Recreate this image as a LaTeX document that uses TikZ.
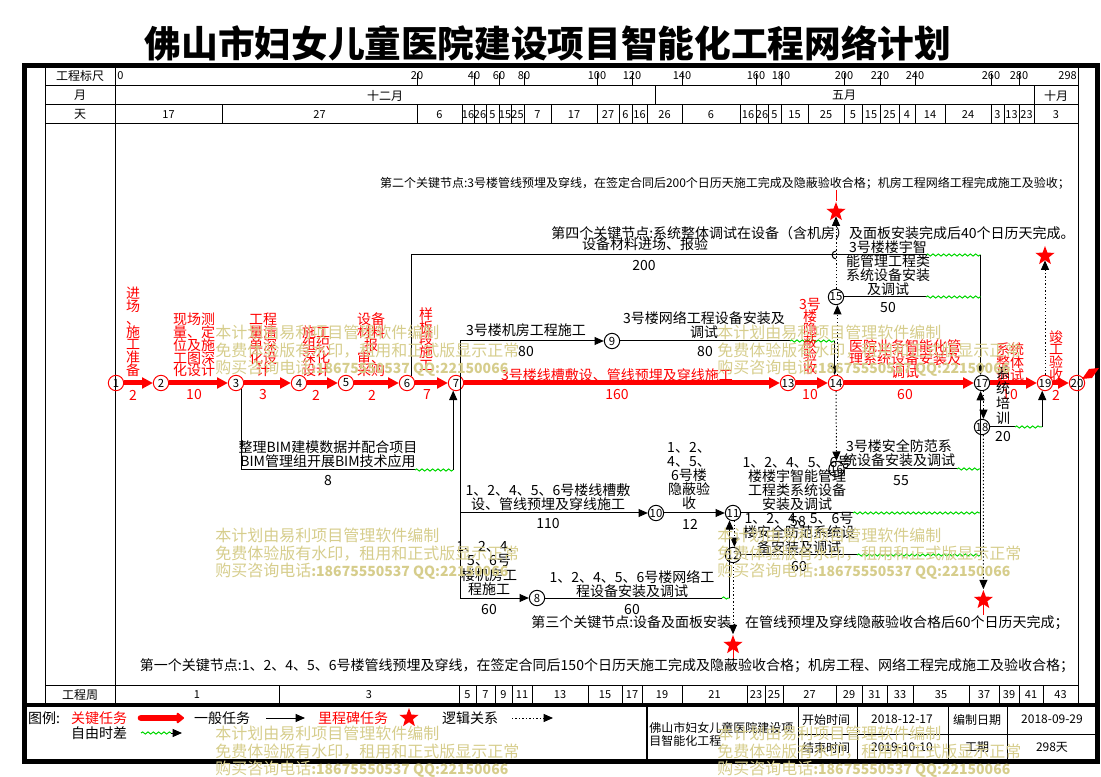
\documentclass[tikz,border=0pt]{standalone}
\usepackage{fontspec}
\setmainfont{Noto Sans CJK SC}
\usetikzlibrary{arrows.meta,shapes.geometric,decorations.pathmorphing}
\definecolor{wmark}{RGB}{214,205,140}
\definecolor{slackgreen}{RGB}{0,215,0}
\newcommand\cjktight{\lineskiplimit=-20pt\lineskip=0pt\relax}

\begin{document}
\begin{tikzpicture}[x=0.75pt,y=-0.75pt,
    ev/.style={circle,draw,line width=0.75pt,inner sep=0pt,minimum size=11.5pt,font=\fontsize{8.5}{9}\selectfont},
    evc/.style={ev,draw=red},
    crit/.style={red,line width=3.75pt,-{Triangle[length=8pt,width=8pt]}},
    act/.style={line width=0.75pt},
    actarr/.style={act,-{Triangle[length=7pt,width=6pt]}},
    logic/.style={act,dash pattern=on 1pt off 1.6pt,-{Triangle[length=7pt,width=6pt]}},
    slackline/.style={draw=slackgreen,line width=0.75pt,decorate,decoration={snake,amplitude=0.8pt,segment length=4pt}},
    lab/.style={inner sep=0pt,align=center,font=\fontsize{10.5}{10.6}\selectfont\cjktight},
    clab/.style={lab,text=red,font=\fontsize{10.5}{9.6}\selectfont\cjktight},
    kn/.style={inner sep=0pt,font=\fontsize{10.5}{12}\selectfont},
    mile/.style={star,star points=5,star point ratio=2.4,fill=red,inner sep=0pt,minimum size=15pt},
    hd/.style={inner sep=0pt,font=\fontsize{9}{10}\selectfont},
    num/.style={inner sep=0pt,font=\fontsize{8.25}{9}\selectfont},
    lg/.style={inner sep=0pt,font=\fontsize{10.5}{12}\selectfont},
    wm/.style={inner sep=0pt,anchor=west,align=left,text=wmark,font=\fontsize{12}{13.1}\selectfont\cjktight}]
\useasboundingbox (0,0) rectangle (1101,777);

\node[font=\fontsize{27.5}{30}\selectfont\bfseries] (title) at (548,43) {佛山市妇女儿童医院建设项目智能化工程网络计划};

% frame and table
\draw[line width=3.75pt] (24.5,66) rectangle (1097.5,761);
\draw[line width=3pt] (24.5,705) -- (1097.5,705);
\draw[act] (45,66) -- (45,705) (115,66) -- (115,705) (1078,66) -- (1078,705);
\draw[act] (45,86) -- (1078,86) (45,105) -- (1078,105) (45,124) -- (1078,124) (45,685) -- (1078,685);

\node[hd] (hscale) at (80,76) {工程标尺};
\node[hd] (hmonth) at (80,95.5) {月};
\node[hd] (hday) at (80,114.5) {天};
\node[hd] (hweek) at (80,695) {工程周};

\node[num,anchor=west] (sc0) at (117,76) {0};
\foreach \x/\t [count=\i] in {417/20,474/40,499/60,524/80,597/100,632/120,682/140,756/160,781/180,844/200,880/220,915/240,991/260,1019/280}
  {\draw[act] (\x,73) -- (\x,86); \node[num] (sc\i) at (\x,76) {\t};}
\node[num,anchor=east] (scend) at (1077,76) {298};

\draw[act] (655,86) -- (655,105) (1034,86) -- (1034,105);
\node[hd] (m1) at (385,95.5) {十二月};
\node[hd] (m2) at (844,95.5) {五月};
\node[hd] (m3) at (1056,95.5) {十月};

\foreach \xa/\xb/\t [count=\i] in {115/222/17,222/417/27,417/462/6,462/474/16,474/486/26,486/499/5,499/511/15,511/524/25,524/551/7,551/597/17,597/619/27,619/632/6,632/647/16,647/682/26,682/740/6,740/756/16,756/768/26,768/781/5,781/808/15,808/844/25,844/862/5,862/880/15,880/899/25,899/915/4,915/945/14,945/991/24,991/1004/3,1004/1019/13,1019/1034/23,1034/1078/3}
  {\draw[act] (\xb,105) -- (\xb,124); \node[num] (day\i) at ({(\xa+\xb)/2},114.5) {\t};}

\foreach \xa/\xb/\t [count=\i] in {115/279/1,279/459/3,459/476/5,476/495/7,495/512/9,512/532/11,532/588/13,588/622/15,622/642/17,642/682/19,682/747/21,747/765/23,765/783/25,783/836/27,836/862/29,862/887/31,887/913/33,913/969/35,969/999/37,999/1019/39,1019/1043/41,1043/1078/43}
  {\draw[act] (\xb,685) -- (\xb,705); \node[num] (wk\i) at ({(\xa+\xb)/2},695) {\t};}

% events
\node[evc] (n1) at (116,383) {1};
\node[evc] (n2) at (161,383) {2};
\node[evc] (n3) at (236,383) {3};
\node[evc] (n4) at (299,383) {4};
\node[evc] (n5) at (346,383) {5};
\node[evc] (n6) at (407,383) {6};
\node[evc] (n7) at (456,383) {7};
\node[ev] (n8) at (537,598) {8};
\node[ev] (n9) at (612,341) {9};
\node[ev] (n10) at (656,513) {10};
\node[ev] (n11) at (733,513) {11};
\node[ev] (n12) at (733,555) {12};
\node[evc] (n13) at (788,383) {13};
\node[evc] (n14) at (836,383) {14};
\node[ev] (n15) at (836,297) {15};
\node[ev] (n16) at (836.5,469) {16};
\node[ev] (n17) at (982,383) {17};
\node[ev] (n18) at (982,427) {18};
\node[evc] (n19) at (1045,383) {19};
\node[evc] (n20) at (1077,383) {20};

\node[mile] (s14) at (836,212) {};
\node[mile] (s19) at (1045,256) {};
\node[mile] (s12) at (733,645) {};
\node[mile] (s18) at (983.4,600) {};

\foreach \a/\b in {1/2,2/3,3/4,4/5,5/6,6/7,7/13,13/14,14/17,17/19,19/20}
  \draw[crit] (n\a) -- (n\b);
\fill[red] (1082,379) -- (1089,369) -- (1099,368) -- (1092,378) -- cycle;

% ordinary work
\coordinate (k7) at (460,383);
\draw[act] (k7 |- n9) -- (k7 |- n8);
\draw[actarr] (k7 |- n9) -- (n9);
\draw[actarr] (k7 |- n10) -- (n10);
\draw[actarr] (k7 |- n8) -- (n8);
\draw[actarr] (n10) -- (n11);

\coordinate (w3) at (415,470);
\draw[act] (n3.-45) |- (w3);
\draw[slackline] (w3) -- (w3 -| n7.250);
\draw[actarr] (w3 -| n7.250) -- (n7.250);

\coordinate (w6) at (926,255);
\draw[act] (n6.60) |- (w6);
\draw[slackline] (w6) -- (w6 -| n17.100);
\draw[actarr] (w6 -| n17.100) -- (n17.100);
\draw[act] (836,259) .. controls (831,259) and (831,251) .. (836,251);

\coordinate (w15) at (926,297);
\draw[act] (n15) -- (w15);
\draw[slackline] (w15) -- (w15 -| n17.100);

\coordinate (w9) at (790,341);
\draw[act] (n9) -- (w9);
\draw[slackline] (w9) -- (w9 -| n14.100);
\draw[actarr] (w9 -| n14.100) -- (n14.100);

\coordinate (w8) at (722,598);
\draw[act] (n8) -- (w8);
\draw[slackline] (w8) -- (w8 -| n11.245);
\draw[actarr] (w8 -| n11.245) -- (n11.245);

\coordinate (w11) at (853,513);
\draw[act] (n11) -- (w11);
\draw[slackline] (w11) -- (w11 -| n17.260);
\coordinate (w16) at (957,469);
\draw[act] (n16) -- (w16);
\draw[slackline] (w16) -- (w16 -| n17.260);
\coordinate (w12) at (857,555);
\draw[act] (n12) -- (w12);
\draw[slackline] (w12) -- (w12 -| n17.260);
\draw[actarr] (w12 -| n17.260) -- (n17.260);

\coordinate (w18) at (1015,427);
\draw[act] (n18) -- (w18);
\draw[slackline] (w18) -- (w18 -| n19.250);
\draw[actarr] (w18 -| n19.250) -- (n19.250);

% logic links and milestones
\draw[logic] (n14.80) -- (n15.280);
\draw[logic] (n15) -- (s14);
\draw[logic] (n14) -- (n16);
\draw[logic] (n11.280) -- (n12.80);
\draw[logic] (n12) -- (s12);
\draw[logic] (n17.280) -- (n18.80);
\draw[logic] (n18.280) -- (s18);
\draw[logic] (n19) -- (s19);
\coordinate (r14) at (836,190);
\coordinate (r12) at (733,660);
\coordinate (r18) at (983.4,615);
\draw[act,red] (s14) -- (r14);
\draw[act,red] (s12) -- (r12);
\draw[act,red] (s18) -- (r18);

% labels of critical work
\node[clab] (c1) at (133,332) {进\\场\\、\\施\\工\\准\\备};
\node[clab] (c2) at (194,345) {现场测\\量、定\\位及施\\工图深\\化设计};
\node[clab] (c3) at (263,345) {工程\\量清\\单深\\化设\\计};
\node[clab] (c4) at (316,351) {施工\\组织\\深化\\设计};
\node[clab] (c5) at (371,345) {设备\\材料\\报\\审、\\采购};
\node[clab] (c6) at (426,339) {样\\板\\段\\施\\工};
\node[clab] (c7) at (617,375) {3号楼线槽敷设、管线预埋及穿线施工};
\node[clab] (c13) at (810,336) {3号\\楼\\隐\\蔽\\验\\收};
\node[clab] (c14) at (905,359) {医院业务智能化管\\理系统设备安装及\\调试};
\node[clab] (c17) at (1010,362) {系统\\整体\\调试};
\node[clab] (c19) at (1056,356) {竣\\工\\验\\收};
\foreach \x/\t [count=\i] in {133/2,194/10,263/3,316/2,372/2,427/7,617/160,810/10,905/60,1010/10,1056/2}
  \node[clab] (cd\i) at (\x,395) {\t};

% labels of ordinary work
\node[lab] (a79) at (526,330) {3号楼机房工程施工};
\node[lab] (d79) at (526,352) {80};
\node[lab] (a914) at (704,325.5) {3号楼网络工程设备安装及\\调试};
\node[lab] (d914) at (705,352) {80};
\node[lab] (a617) at (645,244) {设备材料进场、报验};
\node[lab] (d617) at (644,266) {200};
\node[lab] (a1517) at (888,268) {3号楼楼宇智\\能管理工程类\\系统设备安装\\及调试};
\node[lab] (d1517) at (888,308) {50};
\node[lab] (a37) at (328,454) {整理BIM建模数据并配合项目\\BIM管理组开展BIM技术应用};
\node[lab] (d37) at (328,481) {8};
\node[lab] (a710) at (548,497.5) {1、2、4、5、6号楼线槽敷\\设、管线预埋及穿线施工};
\node[lab] (d710) at (548,524) {110};
\node[lab] (a1011) at (689,476) {1、2、\\4、5、\\6号楼\\隐蔽验\\收};
\node[lab] (d1011) at (690,524) {12};
\node[lab] (a78) at (489,568.5) {1、2、4、\\5、6号\\楼机房工\\程施工};
\node[lab] (d78) at (489,610) {60};
\node[lab] (a811) at (632,584) {1、2、4、5、6号楼网络工\\程设备安装及调试};
\node[lab] (d811) at (632,610) {60};
\node[lab] (a1617) at (899,453.5) {3号楼安全防范系\\统设备安装及调试};
\node[lab] (d1617) at (901,481) {55};
\node[lab] (a1117) at (797,483.5) {1、2、4、5、6号\\楼楼宇智能管理\\工程类系统设备\\安装及调试};
\node[lab] (d1117) at (798,522) {58};
\node[lab] (a1217) at (799,533) {1、2、4、5、6号\\楼安全防范系统设\\备安装及调试};
\node[lab] (d1217) at (799,567) {60};
\node[lab,font=\fontsize{10.5}{11.25}\selectfont\cjktight] (a1819) at (1003,395.5) {系\\统\\培\\训};
\node[lab] (d1819) at (1003,437) {20};

% key nodes
\node[kn,font=\fontsize{9}{10}\selectfont] (key2) at (725,183) {第二个关键节点:3号楼管线预埋及穿线，在签定合同后200个日历天施工完成及隐蔽验收合格；机房工程网络工程完成施工及验收；};
\node[kn] (key4) at (813,233) {第四个关键节点:系统整体调试在设备（含机房）及面板安装完成后40个日历天完成。};
\node[kn] (key3) at (800,623) {第三个关键节点:设备及面板安装，在管线预埋及穿线隐蔽验收合格后60个日历天完成；};
\node[kn] (key1) at (607,666) {第一个关键节点:1、2、4、5、6号楼管线预埋及穿线，在签定合同后150个日历天施工完成及隐蔽验收合格；机房工程、网络工程完成施工及验收合格；};

% legend
\node[lg] (lgtitle) at (44,718) {图例:};
\node[lg,text=red] (lgcrit) at (99,718) {关键任务};
\coordinate (lc1) at (141,718);
\coordinate (lc2) at (184,718);
\draw[red,line width=5pt,line cap=round,-{Triangle[round,length=6pt,width=9pt]}] (lc1) -- (lc2);
\node[lg] (lgnorm) at (222,718) {一般任务};
\coordinate (ln1) at (266,718);
\coordinate (ln2) at (305,718);
\draw[actarr] (ln1) -- (ln2);
\node[lg,text=red] (lgmile) at (353,718) {里程碑任务};
\node[mile] (lgstar) at (409,718) {};
\node[lg] (lglogic) at (470,718) {逻辑关系};
\coordinate (ll1) at (512,718);
\coordinate (ll2) at (553,718);
\draw[logic] (ll1) -- (ll2);
\node[lg] (lgfree) at (99,733) {自由时差};
\coordinate (lf1) at (141,733);
\coordinate (lf2) at (171,733);
\coordinate (lf3) at (182,733);
\draw[slackline] (lf1) -- (lf2);
\draw[actarr] (lf2) -- (lf3);

\draw[line width=1.5pt] (647,705) -- (647,761);
\draw[act] (798,705) -- (798,761) (857,705) -- (857,761) (948,705) -- (948,761) (1007,705) -- (1007,761) (798,734) -- (1097,734);
\node[hd,anchor=west,align=left,font=\fontsize{9}{9.75}\selectfont\cjktight] (prj) at (649,734.5) {佛山市妇女儿童医院建设项\\目智能化工程};
\node[hd] (i1) at (826,719.5) {开始时间};
\node[hd] (i2) at (902,719.5) {2018-12-17};
\node[hd] (i3) at (977,719.5) {编制日期};
\node[hd] (i4) at (1052,719.5) {2018-09-29};
\node[hd] (i5) at (826,747.5) {结束时间};
\node[hd] (i6) at (902,747.5) {2019-10-10};
\node[hd] (i7) at (977,747.5) {工期};
\node[hd] (i8) at (1052,747.5) {298天};

% watermark
\foreach \x/\y [count=\i] in {215/351,717/351,215/554,717/554,215/752,717/752}
  \node[wm] (wm\i) at (\x,\y) {本计划由易利项目管理软件编制\\免费体验版有水印，租用和正式版显示正常\\购买咨询电话{\fontsize{10.5}{11}\selectfont\bfseries :18675550537 QQ:22150066}};
\end{tikzpicture}
\end{document}
